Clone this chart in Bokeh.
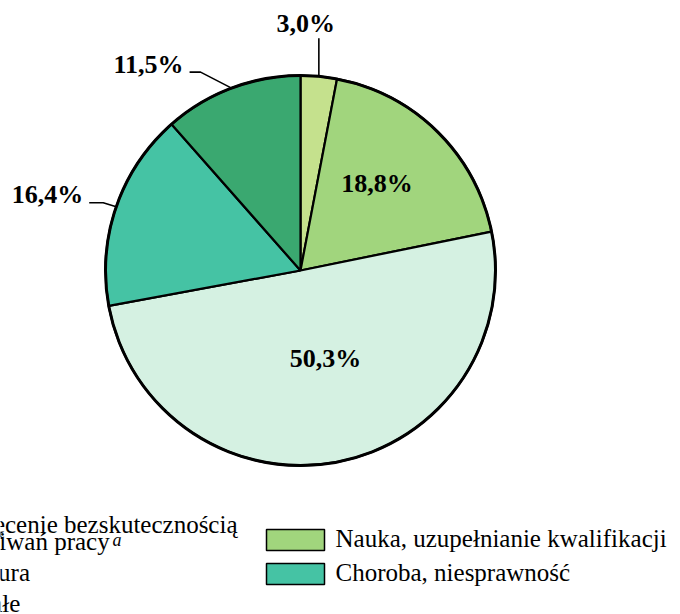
import math
from bokeh.plotting import figure
from bokeh.models import Range1d
from bokeh.core.properties import value
from bokeh.embed import file_html
from bokeh.resources import INLINE

# ---------------- data ----------------
categories = [
    "Zniechęcenie bezskutecznością\nposzukiwań pracy",
    "Nauka, uzupełnianie kwalifikacji",
    "Emerytura",
    "Choroba, niesprawność",
    "Pozostałe",
]
footnote_marks = ["a", "", "", "", ""]
shares = [3.0, 18.8, 50.3, 16.4, 11.5]
colors = ["#c5e18d", "#a1d57d", "#d5f1e2", "#45c3a4", "#3aa870"]

# ---------------- layout ----------------
W, H = 680, 614
CX, CY, R = 300, 270, 195    # pie centre / radius (pixels, y downwards)
SERIF = value("Liberation Serif")
LBL_SIZE, LEG_SIZE = 26, 25
FIX = 0.34                   # baseline correction (fraction of font size)

p = figure(width=W, height=H, output_backend="svg", toolbar_location=None,
           x_range=Range1d(0, W), y_range=Range1d(-H, 0),
           x_axis_location=None, y_axis_location=None, min_border=0)
p.grid.visible = False
p.outline_line_color = None
p.background_fill_color = "white"
p.border_fill_color = "white"

total = sum(shares)
starts, ends = [], []
cum = 0.0
for v in shares:
    a0 = math.pi / 2 - 2 * math.pi * cum / total
    cum += v
    a1 = math.pi / 2 - 2 * math.pi * cum / total
    starts.append(a0)
    ends.append(a1)

p.wedge(x=CX, y=-CY, radius=R, start_angle=starts, end_angle=ends,
        direction="clock", fill_color=colors, line_color="black", line_width=2.2)
p.circle(x=CX, y=-CY, radius=R, fill_color=None, line_color="black", line_width=3)

def fmt(v):
    return f"{v:.1f}%".replace(".", ",")

def base(y, size):
    # desired alphabetic baseline (pixels, y down) -> data y
    return -(y - FIX * size)

# label placement: inside (radius, position within slice) or outside with leader
label_layout = [
    ("up", 38, -13),
    ("in", 116, 0.45),
    ("in", 91.5, 0.473),
    ("left", (-13, -4), 14),
    ("left", (-31, -16), 11),
]
for v, a0, a1, lay in zip(shares, starts, ends, label_layout):
    kind = lay[0]
    a = (a0 + a1) / 2
    ex = CX + R * math.cos(a)
    ey = CY - R * math.sin(a)
    txt = dict(text=[fmt(v)], text_font=SERIF, text_font_style="bold",
               text_font_size=f"{LBL_SIZE}px", text_color="black",
               text_baseline="alphabetic")
    if kind == "in":
        r, frac = lay[1], lay[2]
        al = a0 + (a1 - a0) * frac
        tx = CX + r * math.cos(al)
        ty = CY - r * math.sin(al)
        p.text(x=[tx], y=[base(ty + 9, LBL_SIZE)], text_align="center", **txt)
    elif kind == "up":
        length, dx = lay[1], lay[2]
        p.line(x=[ex, ex], y=[-ey, -(ey - length)], line_color="black", line_width=1.6)
        p.text(x=[ex + dx], y=[base(ey - length - 6, LBL_SIZE)], text_align="center", **txt)
    else:
        (bx, by), h = lay[1], lay[2]
        kx, ky = ex + bx, ey + by
        p.line(x=[ex, kx, kx - h], y=[-ey, -ky, -ky], line_color="black", line_width=1.6)
        p.text(x=[kx - h - 6], y=[base(ky + 1, LBL_SIZE)], text_align="right", **txt)

# ---------------- legend ----------------
SW_X0, SW_W, SW_H = 266, 58, 21
COL_GAP = 411
ROWS = [539.5, 573.5, 604.5]
TEXT_GAP = 69
LINE2_SHIFT = 4     # second line of a wrapped label
SUP_DX = 184        # end of the wrapped second line
for i, (lab, col, mark) in enumerate(zip(categories, colors, footnote_marks)):
    c = i % 2
    r = i // 2
    x0 = SW_X0 - COL_GAP * (1 - c)
    cy = ROWS[r]
    p.rect(x=x0 + SW_W / 2, y=-cy, width=SW_W, height=SW_H, fill_color=col,
           line_color="black", line_width=1.5)
    lines = lab.split("\n")
    if len(lines) == 1:
        bases = [cy + 7]
        xs = [x0 + TEXT_GAP]
    else:
        bases = [cy - 7, cy + 10]
        xs = [x0 + TEXT_GAP, x0 + TEXT_GAP + LINE2_SHIFT]
    p.text(x=xs, y=[base(b, LEG_SIZE) for b in bases], text=lines,
           text_font=SERIF, text_font_size=f"{LEG_SIZE}px", text_color="black",
           text_align="left", text_baseline="alphabetic")
    if mark:
        p.text(x=[xs[-1] + SUP_DX], y=[base(bases[-1] - 4, 18)], text=[mark],
               text_font=SERIF, text_font_style="italic", text_font_size="18px",
               text_color="black", text_align="left", text_baseline="alphabetic")

open("out.html", "w").write(file_html(p, INLINE))
